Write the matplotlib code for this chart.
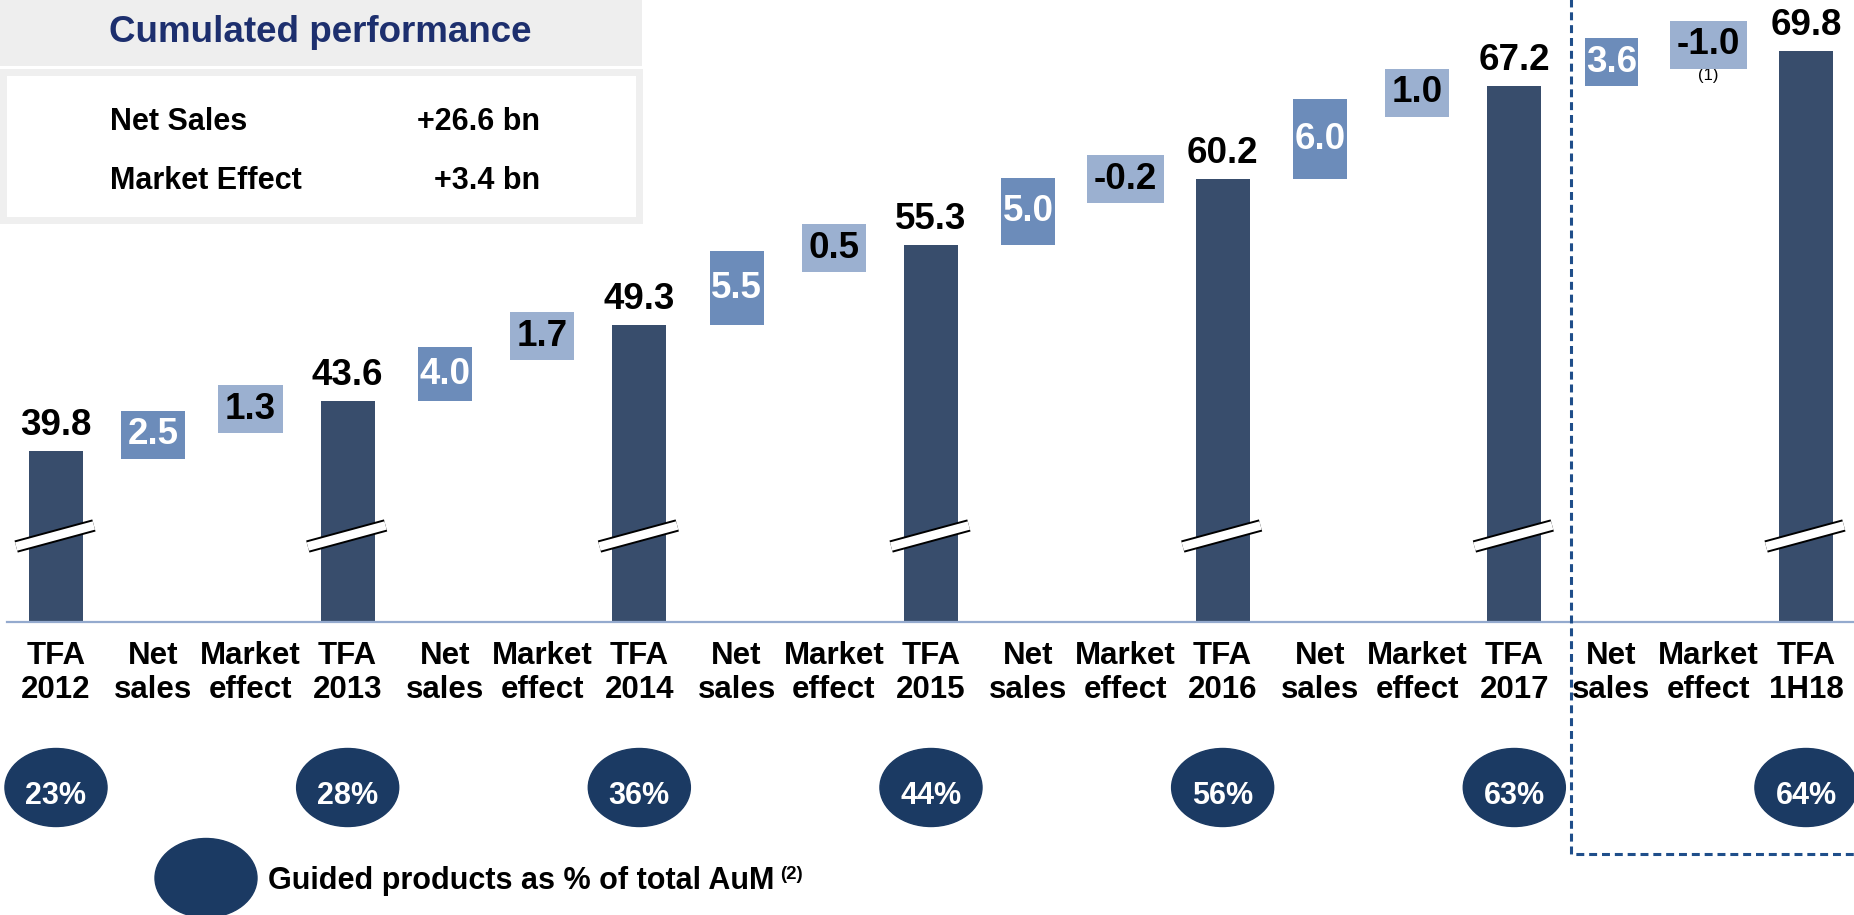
import matplotlib
matplotlib.use('Agg')
import matplotlib.pyplot as plt
from matplotlib.patches import Rectangle, Ellipse
from matplotlib import transforms

plt.rcParams['font.family'] = ['Liberation Sans', 'DejaVu Sans']

# data
labels = ['TFA\n2012', 'Net\nsales', 'Market\neffect',
          'TFA\n2013', 'Net\nsales', 'Market\neffect',
          'TFA\n2014', 'Net\nsales', 'Market\neffect',
          'TFA\n2015', 'Net\nsales', 'Market\neffect',
          'TFA\n2016', 'Net\nsales', 'Market\neffect',
          'TFA\n2017', 'Net\nsales', 'Market\neffect',
          'TFA\n1H18']
tfa_values = [39.8, 43.6, 49.3, 55.3, 60.2, 67.2, 69.8]
net_sales = [2.5, 4.0, 5.5, 5.0, 6.0, 3.6]
market_effect = [1.3, 1.7, 0.5, -0.2, 1.0, -1.0]
guided_pct = ['23%', '28%', '36%', '44%', '56%', '63%', '64%']

# colours
c_tfa = '#384D6C'
c_ns = '#6C8CBA'
c_me = '#9BB0D0'
c_circle = '#1B3A63'
c_dash = '#1F4E8A'
c_base = '#94AACE'

W, H = 1854, 915
fig = plt.figure(figsize=(W / 100, H / 100), dpi=100)
base_px = 622
px_per_unit = 13.333
y0 = 27.0
ax = fig.add_axes([0, (H - base_px) / H, 1, base_px / H])
ax.set_ylim(y0, y0 + base_px / px_per_unit)
ax.set_xlim(-56 / 97.22, (W - 56) / 97.22)

tfa_x = [3 * k for k in range(len(tfa_values))]
ns_x = [3 * k + 1 for k in range(len(net_sales))]
me_x = [3 * k + 2 for k in range(len(market_effect))]
ns_bottom = tfa_values[:-1]
me_bottom = [t + n for t, n in zip(tfa_values[:-1], net_sales)]

bw = 0.555
ax.bar(tfa_x, tfa_values, width=bw, color=c_tfa, zorder=2)
ax.bar(ns_x, net_sales, bottom=ns_bottom, width=bw, color=c_ns, zorder=2)
ax.bar(me_x, market_effect, bottom=me_bottom, width=bw, color=c_me, zorder=2)

# value labels on TFA bars
for x, v in zip(tfa_x, tfa_values):
    ax.annotate(f'{v:.1f}', (x, v), xytext=(0, 11.5), textcoords='offset points',
                ha='center', va='baseline', fontsize=26.5, fontweight='bold', color='black')

# floating labels (small moves get a box of the bar colour)
def float_label(x, bottom, v, fc, tc):
    mid = bottom + v / 2
    box = None
    if abs(v) < 3.4:
        box = dict(boxstyle='square,pad=0.18', fc=fc, ec='none')
    ax.text(x, mid, f'{v:.1f}', ha='center', va='center', fontsize=26.5,
            fontweight='bold', color=tc, bbox=box, zorder=4)
    return mid

for x, b, v in zip(ns_x, ns_bottom, net_sales):
    float_label(x, b, v, c_ns, 'white')
for x, b, v in zip(me_x, me_bottom, market_effect):
    float_label(x, b, v, c_me, 'black')
mid_last = me_bottom[-1] + market_effect[-1] / 2
ax.annotate('(1)', (me_x[-1], mid_last), xytext=(0, -17), textcoords='offset points',
            ha='center', va='top', fontsize=12, color='black')

# axis break marks
for x in tfa_x:
    ax.plot([x - 0.41, x + 0.39], [32.66, 34.24], color='black', lw=9,
            solid_capstyle='butt', zorder=3)
    ax.plot([x - 0.41, x + 0.39], [32.66, 34.24], color='white', lw=6.2,
            solid_capstyle='butt', zorder=3)

ax.axhline(y0, xmin=7 / W, color=c_base, lw=1.6, clip_on=False, zorder=3)
for s in ax.spines.values():
    s.set_visible(False)
ax.set_yticks([])
ax.set_xticks(range(len(labels)))
ax.set_xticklabels(labels, fontsize=22.5, fontweight='bold', linespacing=1.15)
ax.tick_params(axis='x', length=0, pad=14)

# overlay in pixel coordinates
ov = fig.add_axes([0, 0, 1, 1])
ov.set_xlim(0, W)
ov.set_ylim(H, 0)
ov.axis('off')
blend = transforms.blended_transform_factory(ax.transData, ov.transData)

for x, p in zip(tfa_x, guided_pct):
    ov.add_patch(Ellipse((x, 787.5), width=1.05, height=78, transform=blend,
                         color=c_circle, clip_on=False))
    ov.text(x, 804, p, transform=blend, ha='center', va='baseline', color='white',
            fontsize=22, fontweight='bold')

# legend
ov.add_patch(Ellipse((206, 878), width=102, height=79, color=c_circle, clip_on=False))
t = ov.text(268, 889, 'Guided products as % of total AuM', ha='left', va='baseline',
            fontsize=22, fontweight='bold', color='black')
ov.annotate('(2)', xy=(1, 1), xycoords=t, xytext=(4, 0), textcoords='offset points',
            ha='left', va='top', fontsize=13.5, fontweight='bold', color='black')

# dashed box around 1H18
ov.plot([1571, 1571, 1860], [-5, 854, 854], color=c_dash, lw=2.2,
        linestyle=(0, (2.6, 1.6)), clip_on=False)

# cumulated performance box
ov.add_patch(Rectangle((0, 0), 642, 66, fc='#EEEEEE', ec='none'))
ov.add_patch(Rectangle((3.5, 71.5), 636, 148, fc='white', ec='#EFEFEF', lw=5))
ov.text(320, 33, 'Cumulated performance', ha='center', va='center',
        fontsize=26.5, fontweight='bold', color='#1D2F6E')
ov.text(110, 130, 'Net Sales', ha='left', va='baseline', fontsize=22, fontweight='bold')
ov.text(110, 189, 'Market Effect', ha='left', va='baseline', fontsize=22, fontweight='bold')
ov.text(540, 130, '+26.6 bn', ha='right', va='baseline', fontsize=22, fontweight='bold')
ov.text(540, 189, '+3.4 bn', ha='right', va='baseline', fontsize=22, fontweight='bold')

fig.savefig('out.png', dpi=100)
